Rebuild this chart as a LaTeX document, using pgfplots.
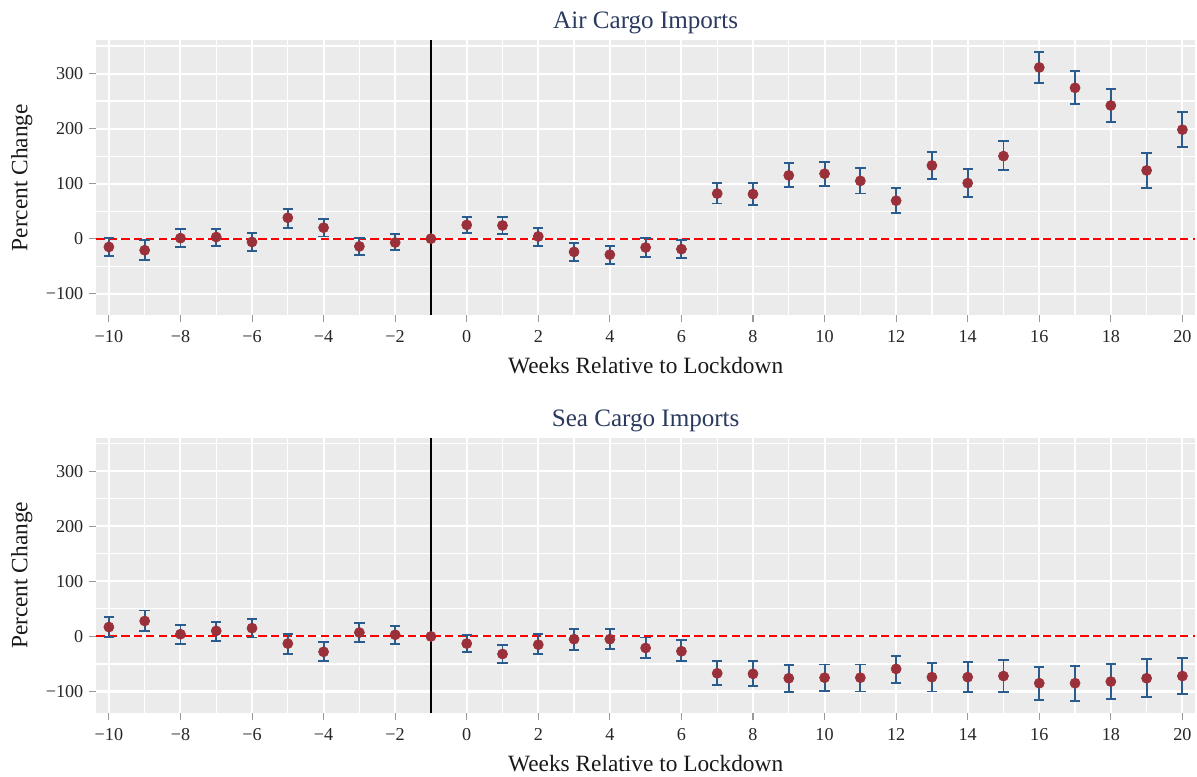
\documentclass[border=0pt]{standalone}
\usepackage{fontspec}
\setmainfont{Liberation Serif}
\usepackage{pgfplots}
\usepackage{pgfplotstable}
\pgfplotsset{compat=1.18}
\definecolor{bg}{HTML}{EBEBEB}
\definecolor{dotred}{HTML}{9A3039}
\definecolor{barblue}{HTML}{2A5C8E}
\definecolor{titleblue}{HTML}{2B3A5E}

\pgfplotstableread{
x y ep em
-10 -15 16 17
-9 -21 18 17
-8 1 17 16
-7 3 15 16
-6 -6 16 16
-5 38 16 18
-4 20 16 16
-3 -14 15 16
-2 -7 15 14
0 25 14 14
1 24 15 16
2 4 15 17
3 -24 16 17
4 -29 16 17
5 -16 17 17
6 -19 17 16
7 82 19 18
8 81 20 20
9 115 22 21
10 118 22 22
11 105 23 23
12 69 23 23
13 133 24 24
14 101 25 25
15 150 27 26
16 311 28 28
17 274 30 30
18 242 30 30
19 124 32 32
20 198 32 31
}\airdata

\pgfplotstableread{
x y ep em
-10 17 18 18
-9 28 19 18
-8 4 17 18
-7 10 17 18
-6 15 17 17
-5 -13 18 19
-4 -28 18 17
-3 7 17 17
-2 3 16 16
0 -13 16 15
1 -32 17 17
2 -15 19 17
3 -5 18 19
4 -5 18 18
5 -21 19 18
6 -27 20 18
7 -67 22 21
8 -68 24 22
9 -76 24 25
10 -75 24 24
11 -75 24 25
12 -59 24 26
13 -74 26 26
14 -74 27 27
15 -72 29 29
16 -85 30 31
17 -85 32 33
18 -82 32 31
19 -76 35 34
20 -72 33 32
}\seadata

\pgfplotsset{
  panel/.style={
    width=635pt, height=159.1pt, scale only axis,
    xmin=-10.35, xmax=20.35, ymin=-139, ymax=361,
    axis background/.style={fill=bg},
    axis line style={draw=none},
    xtick pos=lower, ytick pos=left,
    xtick={-10,-8,...,20},
    xticklabels={−10,−8,−6,−4,−2,0,2,4,6,8,10,12,14,16,18,20},
    ytick={-100,0,100,200,300},
    yticklabels={−100,0,100,200,300},
    minor xtick={-9,-7,...,19},
    minor ytick={-50,50,150,250,350},
    grid=both,
    major grid style={white, line width=1.2pt},
    minor grid style={white, line width=0.7pt},
    tick align=outside,
    major tick length=4pt, minor tick length=0pt,
    tick style={black!40, line width=0.6pt},
    tick label style={font=\fontsize{10.5}{12}\selectfont, text=black!85},
    xticklabel style={yshift=-1.5pt},
    xlabel={Weeks Relative to Lockdown}, ylabel={Percent Change},
    label style={font=\fontsize{13.5}{15}\selectfont, text=black!90},
    xlabel style={at={(axis description cs:0.5,-0.212)}, anchor=base},
    ylabel style={at={(axis description cs:-0.0627,0.5)}, anchor=base},
    title style={at={(axis description cs:0.5,1.0025)}, anchor=base, font=\fontsize{14.5}{16}\selectfont, text=titleblue},
    clip=false,
  },
  errs/.style={only marks, mark=none, barblue,
    error bars/.cd, y dir=both, y explicit,
    error bar style={barblue, line width=1.1pt},
    error mark options={barblue, line width=1.1pt, mark size=3pt, rotate=90}},
  dots/.style={only marks, mark=*, mark size=2.9pt, mark options={fill=dotred, draw=dotred}},
  zeroline/.style={red, line width=1.1pt, dash pattern=on 4.8pt off 2.4pt},
  lockline/.style={black, line width=0.9pt},
}

\begin{document}
\begin{tikzpicture}
\path[use as bounding box] (0,0) rectangle (691.9pt,-449.1pt);
\begin{axis}[panel, at={(55.7pt,-23.1pt)}, anchor=north west, title={Air Cargo Imports}]
\addplot[zeroline] coordinates {(-10.35,0) (20.35,0)};
\addplot[lockline] coordinates {(-1,-139) (-1,361)};
\addplot[errs] table[x=x, y=y, y error plus=ep, y error minus=em] {\airdata};
\addplot[dots] table[x=x, y=y] {\airdata};
\addplot[dots] coordinates {(-1,0)};
\end{axis}
\begin{axis}[panel, at={(55.7pt,-253.0pt)}, anchor=north west, title={Sea Cargo Imports}]
\addplot[zeroline] coordinates {(-10.35,0) (20.35,0)};
\addplot[lockline] coordinates {(-1,-139) (-1,361)};
\addplot[errs] table[x=x, y=y, y error plus=ep, y error minus=em] {\seadata};
\addplot[dots] table[x=x, y=y] {\seadata};
\addplot[dots] coordinates {(-1,0)};
\end{axis}
\end{tikzpicture}
\end{document}
